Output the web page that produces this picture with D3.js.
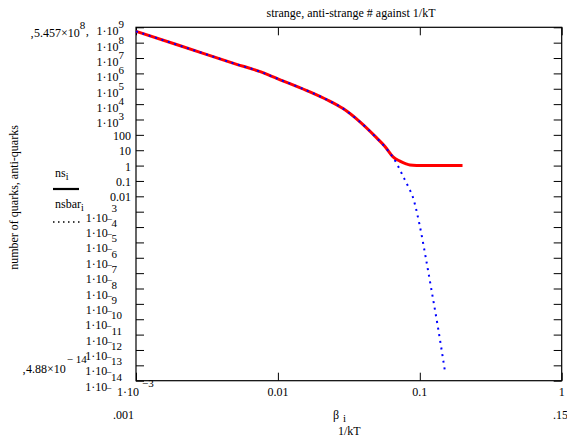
<!DOCTYPE html>
<html>
<head>
<meta charset="utf-8">
<script src="https://cdn.jsdelivr.net/npm/d3@7"></script>
<style>
  body { margin: 0; background: #fff; }
  text { font-family: "Liberation Serif", "Times New Roman", serif; font-size: 12px; fill: #000; }
</style>
</head>
<body>
<div id="chart"></div>
<script>
// values
const beta = [0.001, 0.002, 0.005, 0.0075, 0.01, 0.0129, 0.0168, 0.022, 0.0288, 0.0377, 0.0493, 0.057, 0.0648, 0.0724, 0.08, 0.0853, 0.095, 0.11, 0.13, 0.15, 0.2];
const ns = [5.457e8, 6.8e7, 4.2e6, 1.29e6, 4.4e5, 1.74e5, 6.3e4, 2.0e4, 5.1e3, 724, 68, 17, 3.7, 1.95, 1.3, 1.1, 1.02, 1.0, 1.0, 1.0, 1.0];
const betaBar = [0.001, 0.002, 0.005, 0.0075, 0.01, 0.0129, 0.0168, 0.022, 0.0288, 0.0377, 0.0493, 0.057, 0.0679, 0.0757, 0.0843, 0.0885, 0.0992, 0.11, 0.1213, 0.1336, 0.15];
const nsbar = [5.457e8, 6.8e7, 4.2e6, 1.29e6, 4.4e5, 1.74e5, 6.3e4, 2.0e4, 5.1e3, 724, 67, 16, 1.68, 0.23, 0.031, 0.0115, 1.7e-4, 1.1e-6, 6.6e-9, 3.9e-11, 4.88e-14];

const xTicks = [0.001, 0.01, 0.1, 1];
const xTickLabels = ["1·10|−3", "0.01", "0.1", "1"];
const yExps = [9, 8, 7, 6, 5, 4, 3, 2, 1, 0, -1, -2, -3, -4, -5, -6, -7, -8, -9, -10, -11, -12, -13, -14];
const yPlainLabels = { 2: "100", 1: "10", 0: "1", "-1": "0.1", "-2": "0.01" };

let width = 567,
    height = 440,
    margin = ({ top: 27.3, right: 5.3, bottom: 59.3, left: 136 });

const svg = d3.select("#chart")
  .append("svg")
  .attr("width", width)
  .attr("height", height);

let x = d3.scaleLog()
  .domain([0.001, 1])
  .range([margin.left, width - margin.right]);

let y = d3.scaleLog()
  .domain([1e-14, 1e9])
  .range([height - margin.bottom, margin.top]);

const yTicks = yExps.map(e => Math.pow(10, e));

// ticks on all four sides, pointing inward
svg.append("g")
  .attr("transform", `translate(${margin.left},0)`)
  .call(d3.axisRight(y).tickValues(yTicks).tickSize(8).tickFormat(""))
  .call(g => g.select(".domain").remove());
svg.append("g")
  .attr("transform", `translate(${width - margin.right},0)`)
  .call(d3.axisLeft(y).tickValues(yTicks).tickSize(8).tickFormat(""))
  .call(g => g.select(".domain").remove());
svg.append("g")
  .attr("transform", `translate(0,${height - margin.bottom})`)
  .call(d3.axisTop(x).tickValues(xTicks).tickSize(8).tickFormat(""))
  .call(g => g.select(".domain").remove());
svg.append("g")
  .attr("transform", `translate(0,${margin.top})`)
  .call(d3.axisBottom(x).tickValues(xTicks).tickSize(8).tickFormat(""))
  .call(g => g.select(".domain").remove());
svg.selectAll(".tick line").attr("stroke", "#000");

// frame
svg.append("rect")
  .attr("x", margin.left)
  .attr("y", margin.top)
  .attr("width", width - margin.right - margin.left)
  .attr("height", height - margin.bottom - margin.top)
  .attr("fill", "none")
  .attr("stroke", "#000")
  .attr("stroke-width", 1.2);

// y tick labels, mathcad style
yExps.forEach(e => {
  const ty = y(Math.pow(10, e));
  if (yPlainLabels[e] !== undefined) {
    svg.append("text").attr("x", 131).attr("y", ty + 5)
      .attr("text-anchor", "end").text(yPlainLabels[e]);
  } else if (e > 0) {
    const t = svg.append("text").attr("x", 124).attr("y", ty + 8).attr("text-anchor", "end");
    t.append("tspan").text("1·10");
    t.append("tspan").attr("dy", -7).style("font-size", "11px").text(e);
  } else {
    const n = String(-e);
    const t = svg.append("text").attr("x", n.length > 1 ? 122 : 117).attr("y", ty + 10).attr("text-anchor", "end");
    t.append("tspan").text("1·10");
    t.append("tspan").attr("dx", -1).attr("dy", 1).style("font-size", "10px").text("−");
    t.append("tspan").attr("dx", -1).attr("dy", -11).style("font-size", "11px").text(n);
  }
});

// x tick labels
xTicks.forEach((v, i) => {
  const parts = xTickLabels[i].split("|");
  if (parts.length > 1) {
    const t = svg.append("text").attr("x", 117).attr("y", 396);
    t.append("tspan").text(parts[0]);
    t.append("tspan").attr("dx", 3).attr("dy", -9).style("font-size", "11px").text(parts[1]);
  } else {
    svg.append("text").attr("x", x(v)).attr("y", 396)
      .attr("text-anchor", "middle").text(parts[0]);
  }
});

// range markers
const maxMark = svg.append("text").attr("x", 30).attr("y", 37);
maxMark.append("tspan").text("‚5.457×10");
maxMark.append("tspan").attr("dy", -8).style("font-size", "11px").text("8");
maxMark.append("tspan").attr("dy", 6).text("‚");

const minMark = svg.append("text").attr("x", 22).attr("y", 373);
minMark.append("tspan").text("‚4.88×10");
minMark.append("tspan").attr("dx", 1).attr("dy", -10).style("font-size", "11px").text("− 14");

svg.append("text").attr("x", 113).attr("y", 419).text(".001");
svg.append("text").attr("x", 553).attr("y", 419).text(".15");

// axis titles
const bt = svg.append("text").attr("x", 333).attr("y", 419);
bt.append("tspan").text("β");
bt.append("tspan").attr("dx", 4).attr("dy", 3).style("font-size", "11px").text("i");
svg.append("text").attr("x", 338).attr("y", 435).text("1/kT");

svg.append("text")
  .attr("transform", "translate(18,197.5) rotate(-90)")
  .attr("text-anchor", "middle")
  .text("number of quarks, anti-quarks");

svg.append("text")
  .attr("x", 351).attr("y", 17)
  .attr("text-anchor", "middle")
  .text("strange, anti-strange # against 1/kT");

// legend
const l1 = svg.append("text").attr("x", 55).attr("y", 177);
l1.append("tspan").text("ns");
l1.append("tspan").attr("dy", 3).style("font-size", "10px").text("i");
svg.append("line").attr("x1", 53).attr("x2", 79).attr("y1", 189).attr("y2", 189)
  .attr("stroke", "#000").attr("stroke-width", 2.2);
const l2 = svg.append("text").attr("x", 55).attr("y", 208);
l2.append("tspan").text("nsbar");
l2.append("tspan").attr("dy", 3).style("font-size", "10px").text("i");
svg.append("line").attr("x1", 53).attr("x2", 80).attr("y1", 222).attr("y2", 222)
  .attr("stroke", "#000").attr("stroke-width", 1.5).attr("stroke-dasharray", "1.5,3.5");

// curves
const line = d3.line()
  .x(d => x(d[0]))
  .y(d => y(d[1]))
  .curve(d3.curveMonotoneX);

svg.append("path")
  .datum(d3.zip(beta, ns))
  .attr("fill", "none")
  .attr("stroke", "#ff0000")
  .attr("stroke-width", 3)
  .attr("d", line);

svg.append("path")
  .datum(d3.zip(betaBar, nsbar))
  .attr("fill", "none")
  .attr("stroke", "#0000ff")
  .attr("stroke-width", 2)
  .attr("stroke-dasharray", "2,4.7")
  .attr("d", line);
</script>
</body>
</html>
